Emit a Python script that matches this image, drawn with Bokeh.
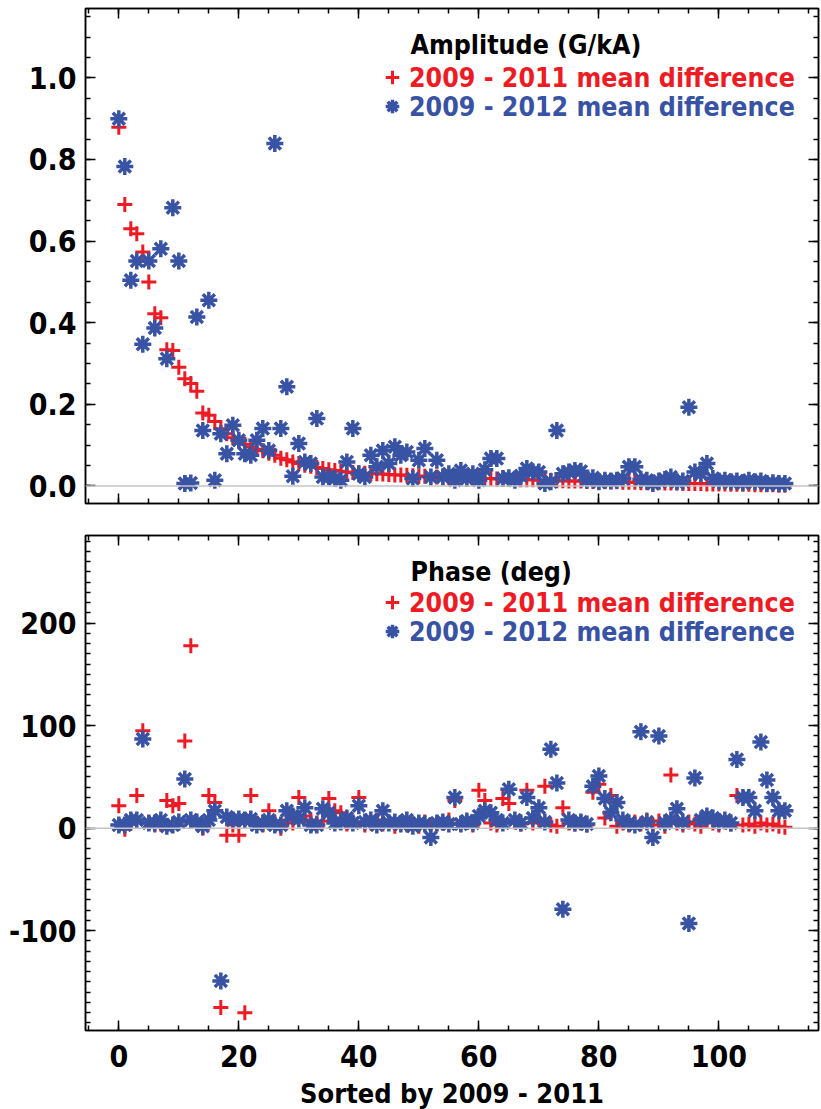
from bokeh.plotting import figure
from bokeh.models import (Range1d, SingleIntervalTicker, LinearAxis, Span, Label,
                          Legend, LegendItem, PrintfTickFormatter)
from bokeh.layouts import column
from bokeh.embed import file_html
from bokeh.resources import INLINE

# ---------------- data ----------------
index = list(range(112))

amp_2011 = [0.879, 0.690, 0.630, 0.618, 0.573, 0.500, 0.422, 0.412, 0.334, 0.332,
            0.291, 0.263, 0.251, 0.232, 0.179, 0.173, 0.158, 0.140, 0.128, 0.118,
            0.110, 0.102, 0.096, 0.090, 0.086, 0.080, 0.075, 0.068, 0.064, 0.059,
            0.055, 0.051, 0.048, 0.045, 0.043, 0.040, 0.038, 0.036, 0.034, 0.033,
            0.032, 0.031, 0.030, 0.030, 0.029, 0.028, 0.027, 0.027, 0.026, 0.025,
            0.024, 0.024, 0.023, 0.022, 0.022, 0.021, 0.021, 0.020, 0.020, 0.019,
            0.019, 0.018, 0.018, 0.017, 0.017, 0.016, 0.016, 0.015, 0.015, 0.015,
            0.014, 0.014, 0.014, 0.013, 0.013, 0.012, 0.012, 0.012, 0.011, 0.011,
            0.011, 0.010, 0.010, 0.010, 0.009, 0.009, 0.009, 0.008, 0.008, 0.008,
            0.008, 0.007, 0.007, 0.007, 0.006, 0.006, 0.006, 0.006, 0.005, 0.005,
            0.005, 0.005, 0.004, 0.004, 0.004, 0.004, 0.003, 0.003, 0.003, 0.003,
            0.002, 0.002]

amp_2012 = [0.900, 0.783, 0.504, 0.551, 0.347, 0.551, 0.387, 0.581, 0.312, 0.682,
            0.551, 0.006, 0.007, 0.414, 0.136, 0.455, 0.014, 0.128, 0.079, 0.149,
            0.112, 0.079, 0.075, 0.112, 0.141, 0.087, 0.839, 0.141, 0.243, 0.024,
            0.104, 0.059, 0.055, 0.165, 0.022, 0.022, 0.018, 0.014, 0.059, 0.141,
            0.030, 0.022, 0.075, 0.047, 0.087, 0.055, 0.096, 0.075, 0.083, 0.018,
            0.063, 0.092, 0.022, 0.063, 0.022, 0.030, 0.014, 0.038, 0.018, 0.030,
            0.014, 0.040, 0.067, 0.067, 0.018, 0.020, 0.014, 0.025, 0.043, 0.034,
            0.034, 0.006, 0.010, 0.136, 0.030, 0.034, 0.038, 0.036, 0.014, 0.020,
            0.010, 0.014, 0.012, 0.014, 0.018, 0.047, 0.047, 0.016, 0.014, 0.006,
            0.012, 0.016, 0.022, 0.010, 0.012, 0.193, 0.034, 0.030, 0.055, 0.018,
            0.012, 0.014, 0.010, 0.012, 0.008, 0.014, 0.010, 0.012, 0.006, 0.008,
            0.006, 0.006]

phase_2011 = [22, -1, 5, 32, 95, 5, 3, 4, 27, 22,
              24, 85, 178, 5, 0, 32, 25, -175, -7, 3,
              -7, -180, 32, 5, 3, 17, 6, 0, 8, 5,
              30, 12, 8, 5, 7, 29, 17, 15, 4, 6,
              30, 3, 5, 8, 4, 6, 2, 5, 3, 4,
              2, 6, 3, 4, 5, 8, 27, 4, 6, 3,
              37, 27, 5, 3, 29, 24, 6, 4, 37, 5,
              8, 41, 3, 2, 20, 5, 4, 6, 3, 35,
              43, 10, 32, 2, 5, 3, 6, 4, 8, 3,
              7, 2, 52, 5, 3, 6, 4, 2, 8, 5,
              3, 6, 4, 32, 3, 4, 2, 5, 3, 4,
              2, 1]

phase_2012 = [3, 3, 8, 8, 87, 5, 5, 8, 2, 3,
              6, 48, 8, 6, 2, 8, 17, -149, 11, 8,
              9, 8, 9, 3, 5, 8, 3, 3, 17, 12,
              9, 20, 3, 3, 19, 15, 5, 6, 10, 5,
              22, 6, 8, 3, 17, 5, 6, 4, 8, 2,
              5, 4, -9, 5, 6, 4, 30, 4, 7, 5,
              12, 17, 15, 8, 5, 38, 8, 5, 30, 10,
              20, 6, 77, 44, -79, 8, 5, 6, 4, 41,
              51, 29, 15, 25, 8, 5, 3, 94, 6, -9,
              90, 5, 8, 19, 6, -93, 49, 8, 12, 10,
              6, 8, 5, 67, 30, 30, 17, 84, 47, 30,
              17, 17]

label_2011 = "2009 - 2011 mean difference"
label_2012 = "2009 - 2012 mean difference"
title_amp = "Amplitude (G/kA)"
title_phase = "Phase (deg)"
x_title = "Sorted by 2009 - 2011"

# ---------------- style ----------------
FONT = "'DejaVu Sans Condensed', 'Liberation Sans Narrow', 'Roboto Condensed', 'Liberation Sans', sans-serif"
RED = "#ed1c24"
BLUE = "#3953a4"
TICK_FS = "30px"
TXT_FS = "26.5px"
TITLE_FS = "27px"


def style_axis(ax, ticker, show_labels, fmt=None):
    ax.ticker = ticker
    ax.major_tick_in = 10
    ax.major_tick_out = 0
    ax.minor_tick_in = 5
    ax.minor_tick_out = 0
    ax.axis_line_width = 1.5
    ax.axis_line_color = "black"
    ax.major_tick_line_width = 1.5
    ax.minor_tick_line_width = 1.5
    ax.major_tick_line_color = "black"
    ax.minor_tick_line_color = "black"
    if fmt is not None:
        ax.formatter = fmt
    if show_labels:
        ax.major_label_text_font = FONT
        ax.major_label_text_font_style = "bold"
        ax.major_label_text_font_size = TICK_FS
        ax.major_label_text_color = "black"
        ax.major_label_standoff = 9
    else:
        ax.major_label_text_font_size = "0px"
        ax.major_label_text_alpha = 0
        ax.major_label_standoff = 0


def make_panel(y0, y1, ytick, ynminor, yfmt, ys_red, ys_blue, heading,
               show_x, border_top, border_bottom, leg_y):
    p = figure(frame_width=733, frame_height=495,
               x_range=Range1d(-5.55, 116.6), y_range=Range1d(y0, y1),
               output_backend="svg", toolbar_location=None,
               min_border_left=85, min_border_right=3,
               min_border_top=border_top, min_border_bottom=border_bottom,
               background_fill_color="white", border_fill_color="white")
    p.grid.visible = False
    p.outline_line_color = "black"
    p.outline_line_width = 1.5

    xbelow = p.xaxis[0]
    yleft = p.yaxis[0]
    style_axis(xbelow, SingleIntervalTicker(interval=20, num_minor_ticks=4), show_x,
               PrintfTickFormatter(format="%d"))
    style_axis(yleft, SingleIntervalTicker(interval=ytick, num_minor_ticks=ynminor), True, yfmt)

    top_ax = LinearAxis()
    style_axis(top_ax, SingleIntervalTicker(interval=20, num_minor_ticks=4), False)
    p.add_layout(top_ax, "above")
    right_ax = LinearAxis()
    style_axis(right_ax, SingleIntervalTicker(interval=ytick, num_minor_ticks=ynminor), False)
    p.add_layout(right_ax, "right")

    p.add_layout(Span(location=0, dimension="width", line_color="#c4c4c4", line_width=1.5))

    r_red = p.scatter(index, ys_red, marker="cross", size=15, line_color=RED,
                      line_width=3)
    r_blue = p.scatter(index, ys_blue, marker="asterisk", size=17, line_color=BLUE,
                       line_width=3.5)

    p.add_layout(Label(x=325, y=459, x_units="screen", y_units="screen",
                       text=heading, text_font=FONT, text_font_style="bold",
                       text_font_size=TXT_FS, text_color="black",
                       text_baseline="alphabetic"))

    for lab, rend, col, vy in [(label_2011, r_red, RED, leg_y), (label_2012, r_blue, BLUE, leg_y - 29)]:
        leg = Legend(items=[LegendItem(label=lab, renderers=[rend])],
                     location=(290, vy), orientation="vertical",
                     background_fill_alpha=0, border_line_alpha=0,
                     label_text_color=col, label_text_font=FONT,
                     label_text_font_style="bold", label_text_font_size=TXT_FS,
                     glyph_width=34, glyph_height=36, label_standoff=0,
                     padding=0, margin=0, spacing=0, label_height=20)
        p.add_layout(leg)
    return p, xbelow


top, _ = make_panel(-0.043, 1.17, 0.2, 4, PrintfTickFormatter(format="%.1f"),
                    amp_2011, amp_2012, title_amp, False, 8, 12, 408)
bottom, bx = make_panel(-197.4, 285.6, 100, 10, PrintfTickFormatter(format="%d"),
                        phase_2011, phase_2012, title_phase, True, 20, 40, 410)
bx.axis_label = x_title
bx.axis_label_text_font = FONT
bx.axis_label_text_font_style = "bold"
bx.axis_label_text_font_size = TITLE_FS
bx.axis_label_text_color = "black"
bx.axis_label_standoff = 8
bx.major_label_standoff = 14

layout = column(top, bottom, spacing=0)
open("out.html", "w").write(file_html(layout, INLINE))
